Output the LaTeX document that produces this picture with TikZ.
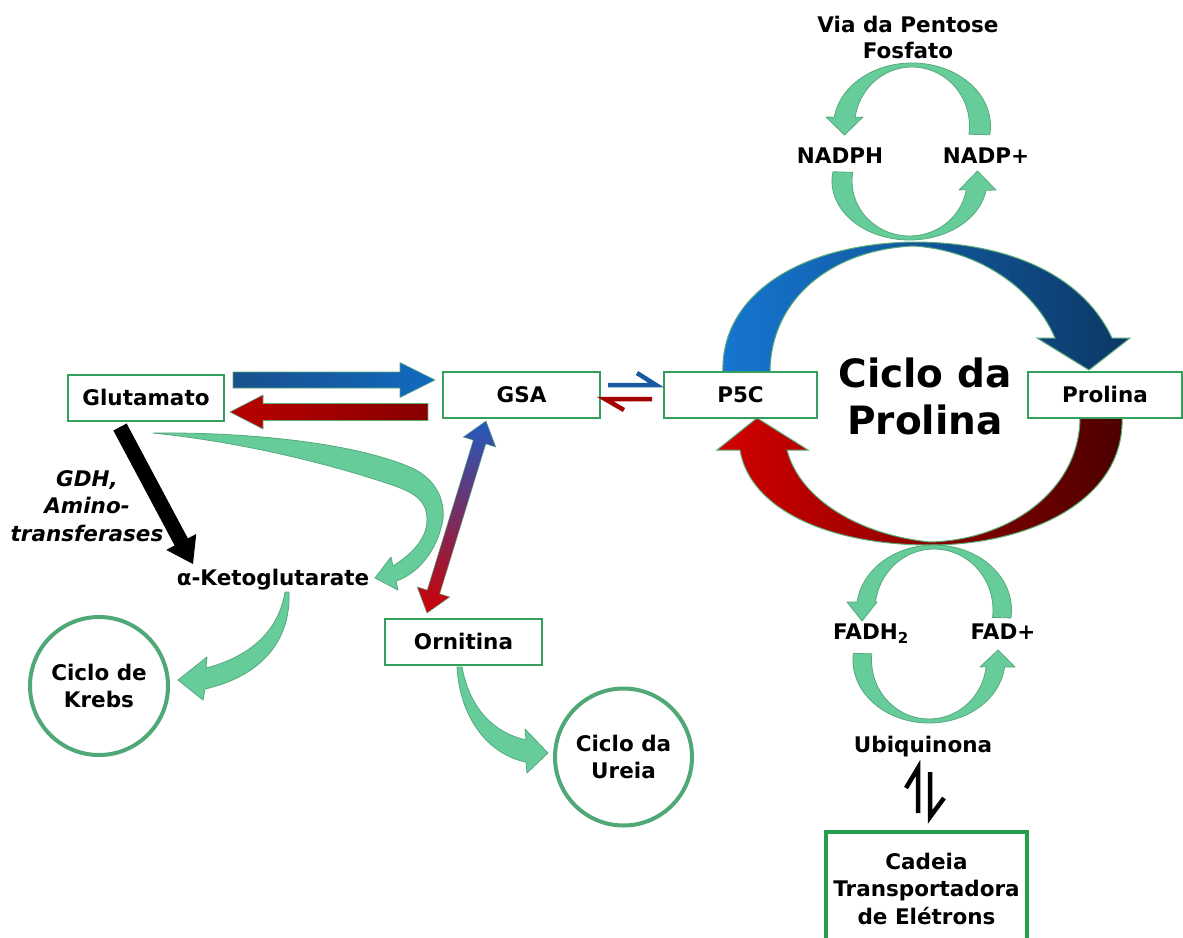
\documentclass[tikz,border=0pt]{standalone}
\usepackage{fontspec}
\setmainfont{DejaVu Sans}
\usetikzlibrary{calc}
\definecolor{boxgreen}{RGB}{52,160,92}
\definecolor{cadgreen}{RGB}{35,158,75}
\definecolor{circgreen}{RGB}{80,168,118}
\definecolor{lgreen}{RGB}{102,204,153}
\definecolor{lgedge}{RGB}{85,170,125}
\definecolor{arcedge}{RGB}{90,170,120}
\definecolor{bluel}{RGB}{22,118,210}
\definecolor{bluer}{RGB}{12,55,100}
\definecolor{redl}{RGB}{212,0,0}
\definecolor{redr}{RGB}{75,0,0}
\definecolor{hblue}{RGB}{25,90,160}
\definecolor{hred}{RGB}{165,0,0}
\definecolor{sblueA}{RGB}{25,80,140}
\definecolor{sblueB}{RGB}{16,106,192}
\definecolor{sredA}{RGB}{185,0,0}
\definecolor{sredB}{RGB}{135,0,0}
\definecolor{dblue}{RGB}{35,90,190}
\definecolor{dred}{RGB}{205,0,5}
% block arrow: #1 style, #2 tail coord, #3 tip coord, #4 half shaft, #5 half head, #6 head length
\newcommand{\myblockarrow}[6]{%
  \coordinate (mba-h) at ($(#3)!#6!(#2)$);
  \path[#1] ($(#2)!#4!90:(#3)$) -- ($(mba-h)!#4!90:(#3)$) -- ($(mba-h)!#5!90:(#3)$) -- (#3)
    -- ($(mba-h)!#5!-90:(#3)$) -- ($(mba-h)!#4!-90:(#3)$) -- ($(#2)!#4!-90:(#3)$) -- cycle;}
% double arrow: #1 style, #2 tip A, #3 tip B, #4 half shaft, #5 half head, #6 head length
\newcommand{\mydoublearrow}[6]{%
  \coordinate (mda-a) at ($(#2)!#6!(#3)$);
  \coordinate (mda-b) at ($(#3)!#6!(#2)$);
  \path[#1] (#2) -- ($(mda-a)!#5!90:(#3)$) -- ($(mda-a)!#4!90:(#3)$) -- ($(mda-b)!#4!-90:(#2)$)
    -- ($(mda-b)!#5!-90:(#2)$) -- (#3) -- ($(mda-b)!#5!90:(#2)$) -- ($(mda-b)!#4!90:(#2)$)
    -- ($(mda-a)!#4!-90:(#3)$) -- ($(mda-a)!#5!-90:(#3)$) -- cycle;}
\tikzset{
  box/.style={draw=boxgreen, line width=2pt, fill=white, minimum height=46pt, inner sep=0pt, text height=15.6pt, text depth=0pt},
  lbl/.style={inner sep=0pt, text height=15.6pt, text depth=0pt},
  mlbl/.style={inner sep=0pt, align=center},
  circ/.style={circle, draw=circgreen, line width=4pt, fill=white, inner sep=0pt, align=center},
  garrow/.style={fill=lgreen, draw=lgedge, line width=0.8pt, line join=round},
  harp/.style={line width=4.5pt, line cap=butt, line join=miter},
  bigarc/.style={draw=arcedge, line width=1pt},
}
\begin{document}
\begin{tikzpicture}[x=1pt, y=-1pt, font=\fontsize{21.5}{27.5}\selectfont\bfseries]
\useasboundingbox (0,0) rectangle (1183,937);
\fill[white] (0,0) rectangle (1183,937);

% ---- big proline cycle arcs
\path[bigarc, left color=bluel, right color=bluer]
  (723,373) .. controls (720,295) and (800,244) .. (913,242)
  .. controls (1000,242) and (1080,270) .. (1112,338)
  -- (1130,338) -- (1089,370) -- (1037,338) -- (1055,338)
  .. controls (1035,290) and (980,250) .. (913,246)
  .. controls (830,250) and (770,300) .. (770,373) -- cycle;
\path[bigarc, left color=redl, right color=redr]
  (1122,417) .. controls (1125,500) and (1030,545) .. (930,545)
  .. controls (830,545) and (750,510) .. (740,450)
  -- (717,450) -- (757,418) -- (808,450) -- (787,450)
  .. controls (800,500) and (860,535) .. (930,542)
  .. controls (1010,540) and (1080,490) .. (1080,417) -- cycle;

% ---- green loops (NADPH / NADP+)
\path[garrow] plot[domain=8:-172, samples=60] ({912+78.5*cos(\x)},{126+63*sin(\x)})
  -- (826,117) -- (844.5,135) -- (863,117)
  -- plot[domain=-172:8, samples=60] ({912+57.5*cos(\x)},{126+59*sin(\x)}) -- cycle;
\path[garrow] plot[domain=-171:-351, samples=60] ({909.5+77.5*cos(\x)},{181+59*sin(\x)})
  -- (996,190) -- (977.5,171) -- (959,190)
  -- plot[domain=-351:-171, samples=60] ({909.5+57.5*cos(\x)},{181+55*sin(\x)}) -- cycle;
% ---- green loops (FADH2 / FAD+)
\path[garrow] plot[domain=7:-173, samples=60] ({934+77.5*cos(\x)},{610+65*sin(\x)})
  -- (847,602) -- (862,621) -- (877,602)
  -- plot[domain=-173:7, samples=60] ({934+59*cos(\x)},{610+61*sin(\x)}) -- cycle;
\path[garrow] plot[domain=-174:-353.6, samples=60] ({929+76*cos(\x)},{660+63*sin(\x)})
  -- (1015,667) -- (998,650) -- (980,667)
  -- plot[domain=-353.6:-174, samples=60] ({929+57.5*cos(\x)},{660+59*sin(\x)}) -- cycle;

% ---- nodes (boxes)
\node[box, minimum width=156pt] (glu) at (146,398) {Glutamato};
\node[box, minimum width=157pt] (gsa) at (521.5,395) {GSA};
\node[box, minimum width=153pt] (p5c) at (740.5,395) {P5C};
\node[box, minimum width=154pt] (pro) at (1105,395) {Prolina};
\node[box, minimum width=157pt] (orn) at (463.5,642) {Ornitina};
\node[draw=cadgreen, line width=3.5pt, fill=white, minimum width=201pt, minimum height=113pt,
      inner sep=0pt, align=center] (cad) at (926.5,888.5) {Cadeia\\Transportadora\\de Elétrons};

\node[circ, minimum size=138pt] (krebs) at (99,686) {Ciclo de\\Krebs};
\node[circ, minimum size=137pt] (ureia) at (623.5,757) {Ciclo da\\Ureia};

% ---- labels
\node[mlbl, font=\fontsize{21.5}{26}\selectfont\bfseries] (via) at (908,37) {Via da Pentose\\Fosfato};
\node[lbl] (nadph) at (840,156) {NADPH};
\node[lbl] (nadp) at (986,156) {NADP+};
\node[lbl] (fadh) at (871,632) {FADH\textsubscript{2}};
\node[lbl] (fad) at (1003,632) {FAD+};
\node[lbl] (ubi) at (923,745) {Ubiquinona};
\node[lbl] (akg) at (273,578) {α-Ketoglutarate};
\node[mlbl, font=\fontsize{21.5}{27.5}\selectfont\bfseries\itshape] (gdh) at (87,506) {GDH,\\Amino-\\transferases};
\node[mlbl, font=\fontsize{39}{47}\selectfont\bfseries] (ciclo) at (925,396) {Ciclo da\\Prolina};

% ---- straight block arrows
\coordinate (bt) at (233,380); \coordinate (bh) at (435,380);
\myblockarrow{draw=arcedge, line width=0.6pt, left color=sblueA, right color=sblueB}{bt}{bh}{8pt}{17.5pt}{35pt}
\coordinate (rt) at (428,412); \coordinate (rh) at (230,412);
\myblockarrow{draw=arcedge, line width=0.6pt, left color=sredA, right color=sredB}{rt}{rh}{8.5pt}{17pt}{33pt}
\coordinate (kt) at (120,427); \coordinate (kh) at (193,564);
\myblockarrow{fill=black}{kt}{kh}{7.5pt}{17pt}{25pt}
\coordinate (ga) at (486,421); \coordinate (ob) at (427,613);
\mydoublearrow{draw=arcedge, line width=0.5pt, top color=dblue, bottom color=dred}{ga}{ob}{6.5pt}{17pt}{22pt}

% ---- green curved arrows
\path[garrow] (153,433) .. controls (260,432) and (360,445) .. (412,468)
  .. controls (442,482) and (447,510) .. (441,528)
  .. controls (434,555) and (415,575) .. (396,581)
  -- (398,590) -- (375,578) -- (391,557) -- (393,566)
  .. controls (410,555) and (427,540) .. (427,520)
  .. controls (427,502) and (417,494) .. (395,486)
  .. controls (340,467) and (250,443) .. (153,433) -- cycle;
\path[garrow] (289,592) .. controls (291,640) and (262,676) .. (205,689)
  -- (203,700) -- (178,680) -- (207,657) -- (206,668)
  .. controls (245,658) and (278,635) .. (285,592) -- cycle;
\path[garrow] (457,667) .. controls (460,720) and (490,755) .. (526,762)
  -- (527,773) -- (548,753) -- (525,729) -- (526,740)
  .. controls (495,733) and (470,710) .. (462,667) -- cycle;

% ---- equilibrium harpoons
\coordinate (h1a) at (608,385); \coordinate (h1b) at (656,385); \coordinate (h1c) at (637,373);
\draw[harp, hblue] (h1a) -- (h1b) -- (h1c);
\coordinate (h2a) at (652,399); \coordinate (h2b) at (605,399); \coordinate (h2c) at (624,410);
\draw[harp, hred] (h2a) -- (h2b) -- (h2c);
\coordinate (u1a) at (918,813); \coordinate (u1b) at (918,768); \coordinate (u1c) at (906,788);
\draw[harp, black] (u1a) -- (u1b) -- (u1c);
\coordinate (u2a) at (930,772); \coordinate (u2b) at (930,817); \coordinate (u2c) at (944,798);
\draw[harp, black] (u2a) -- (u2b) -- (u2c);
\end{tikzpicture}
\end{document}
